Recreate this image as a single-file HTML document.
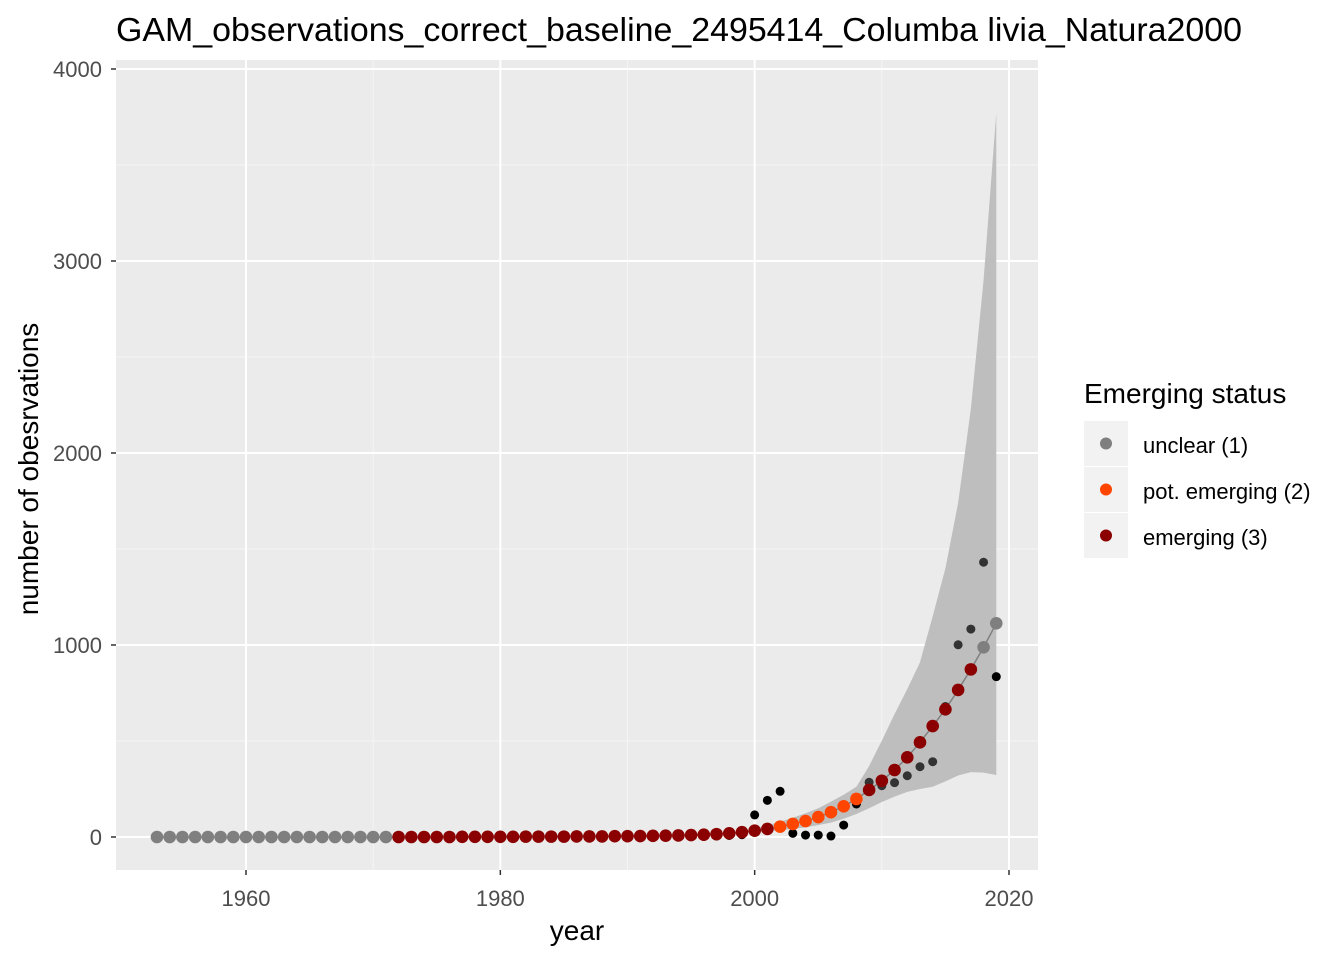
<!DOCTYPE html>
<html><head><meta charset="utf-8"><style>
html,body{margin:0;padding:0;background:#fff;}
svg text{font-family:"Liberation Sans",Arial,sans-serif;}
</style></head><body>
<svg id="chart" width="1344" height="960" xmlns="http://www.w3.org/2000/svg">
<text x="116" y="41" font-size="33" textLength="1126" lengthAdjust="spacingAndGlyphs" fill="#000">GAM_observations_correct_baseline_2495414_Columba livia_Natura2000</text>
<rect x="116" y="60" width="922" height="810" fill="#ebebeb"/>
<g id="grid"></g>
<g id="ribbon"></g>
<g id="marks"></g>
<g id="axes"></g>
<text x="577" y="940" font-size="28" text-anchor="middle" fill="#000">year</text>
<text transform="translate(38,469) rotate(-90)" font-size="28" text-anchor="middle" fill="#000">number of obesrvations</text>
<g>
<text x="1084" y="403" font-size="28" fill="#000">Emerging status</text>
<g><rect x="1084" y="421" width="44" height="45" fill="#f2f2f2"/><circle cx="1106" cy="443.5" r="6" fill="#7f7f7f"/><text x="1143" y="453" font-size="22" fill="#000">unclear (1)</text></g>
<g><rect x="1084" y="467" width="44" height="45" fill="#f2f2f2"/><circle cx="1106" cy="489.5" r="6" fill="#ff4500"/><text x="1143" y="499" font-size="22" fill="#000">pot. emerging (2)</text></g>
<g><rect x="1084" y="513" width="44" height="45" fill="#f2f2f2"/><circle cx="1106" cy="535.5" r="6" fill="#8b0000"/><text x="1143" y="545" font-size="22" fill="#000">emerging (3)</text></g>
</g>
</svg>
<script>
const years = [];
for (let y = 1953; y <= 2019; y++) years.push(y);
const fitted = [0,0,0,0,0,0,0,0,0,0,0,0,0,0,0,0,0,0,0,
 0,0,0,0,0,1,1,1,1,1,2,2,2,2,3,3,3,4,4,5,6,7,8,10,12,15,19,25,
 33,42,54,68,83,104,129,160,198,245,293,349,415,493,578,665,766,873,988,1113];
const status = [1,1,1,1,1,1,1,1,1,1,1,1,1,1,1,1,1,1,1,
 3,3,3,3,3,3,3,3,3,3,3,3,3,3,3,3,3,3,3,3,3,3,3,3,3,3,3,3,3,3,
 2,2,2,2,2,2,2,
 3,3,3,3,3,3,3,3,3,
 1,1];
const observed = [0,0,0,0,0,0,0,0,0,0,0,0,0,0,0,0,0,0,0,0,0,0,0,0,0,0,0,0,0,0,0,0,0,0,0,0,0,0,0,0,0,0,2,3,5,8,12,
 115,191,238,19,10,10,5,62,172,285,267,283,319,366,392,680,1001,1083,1431,835];
const bandYears = [2000,2001,2002,2003,2004,2005,2006,2007,2008,2009,2010,2011,2012,2013,2014,2015,2016,2017,2018,2019];
const bandUpper = [45,60,80,100,124,150,184,220,262,370,502,640,770,910,1150,1400,1740,2230,2900,3770];
const bandLower = [25,28,35,42,50,62,75,95,120,150,182,210,235,250,262,290,320,338,335,323];
const xTicks = [1960,1980,2000,2020];
const yTicks = [0,1000,2000,3000,4000];

const NS='http://www.w3.org/2000/svg';
const X = v => 246 + (v-1960)*(1009-246)/60;
const Y = v => 837 - v*(837-645)/1000;
const colors = {1:'#7f7f7f',2:'#ff4500',3:'#8b0000'};
function mk(tag, attrs, parent){const e=document.createElementNS(NS,tag);for(const k in attrs)e.setAttribute(k,attrs[k]);parent.appendChild(e);return e;}
const grid=document.getElementById('grid'), rib=document.getElementById('ribbon'), marks=document.getElementById('marks'), axes=document.getElementById('axes');
[1970,1990,2010].forEach(v=>{const l=mk('line',{x1:X(v),x2:X(v),y1:60,y2:870,stroke:'#f5f5f5','stroke-width':1},grid);});
[500,1500,2500,3500].forEach(v=>{const l=mk('line',{x1:116,x2:1038,y1:Y(v),y2:Y(v),stroke:'#f5f5f5','stroke-width':1},grid);});
xTicks.forEach(v=>{
 const l=mk('line',{x1:X(v),x2:X(v),y1:60,y2:870,stroke:'#fff','stroke-width':2},grid);
 
 
 mk('line',{x1:X(v),x2:X(v),y1:870,y2:875,stroke:'#333','stroke-width':1.5},axes);
 const t=mk('text',{x:X(v),y:906,'font-size':22,'text-anchor':'middle',fill:'#4d4d4d'},axes);
 t.textContent=v;
 
 
});
yTicks.forEach(v=>{
 const l=mk('line',{x1:116,x2:1038,y1:Y(v),y2:Y(v),stroke:'#fff','stroke-width':2},grid);
 
 
 mk('line',{x1:111,x2:116,y1:Y(v),y2:Y(v),stroke:'#333','stroke-width':1.5},axes);
 const t=mk('text',{x:102,y:Y(v)+8,'font-size':22,'text-anchor':'end',fill:'#4d4d4d'},axes);
 t.textContent=v;
 
 
});
let d='';
bandYears.forEach((yr,i)=>{d+=(i?'L':'M')+X(yr)+','+Y(bandUpper[i]);});
for(let i=bandYears.length-1;i>=0;i--) d+='L'+X(bandYears[i])+','+Y(bandLower[i]);
const r=mk('path',{d:d+'Z',fill:'#bebebe'},rib);


const ln=mk('polyline',{points:years.map((yr,i)=>X(yr)+','+Y(fitted[i])).join(' '),fill:'none',stroke:'#808080','stroke-width':1.5},marks);


years.forEach((yr,i)=>{
 const c=mk('circle',{cx:X(yr),cy:Y(observed[i]),r:4.5,fill:(yr>=2009&&yr<2019)?'#333':'#000'},marks);
 
 
});
years.forEach((yr,i)=>{
 const c=mk('circle',{cx:X(yr),cy:Y(fitted[i]),r:6.3,fill:colors[status[i]]},marks);
 
 
});
</script>
</body></html>
